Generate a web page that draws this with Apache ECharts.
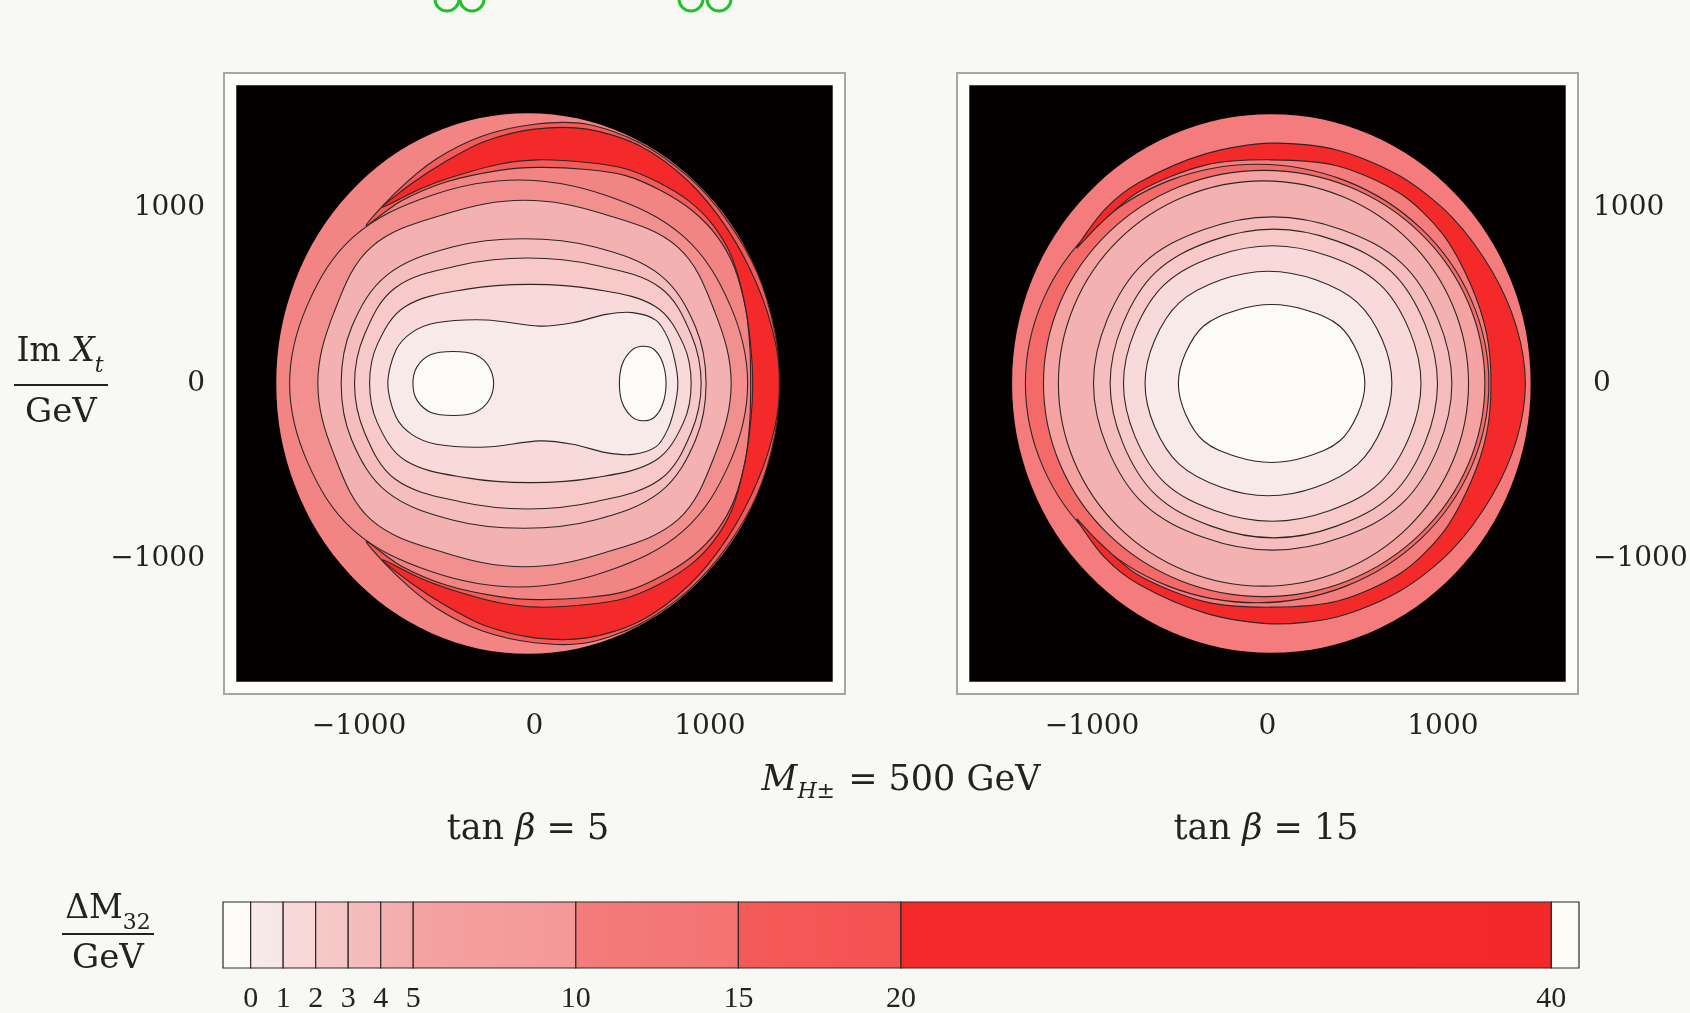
<!doctype html>
<html>
<head>
<meta charset="utf-8">
<title>ΔM32 contours</title>
<script src="https://cdn.jsdelivr.net/npm/echarts@6/dist/echarts.min.js"></script>
<style>
  html, body { margin: 0; padding: 0; background: #f8f9f4; }
  #chart { width: 1690px; height: 1013px; }
</style>
</head>
<body>
<div id="chart"></div>
<script>
// colour levels of Delta M32 / GeV
var levels = [0, 1, 2, 3, 4, 5, 10, 15, 20, 40];
var barEdges = [-0.85, 0, 1, 2, 3, 4, 5, 10, 15, 20, 40, 40.85];
// band colours: below 0, 0-1, 1-2, 2-3, 3-4, 4-5, 5-10, 10-15, 15-20, 20-40, above 40
var bandColors = ['#fcfbf9', '#f9eaea', '#f8dada', '#f7c9c9', '#f5bdbd', '#f4b1b1', '#f4a2a2', '#f47c7c', '#f45b58', '#f42a2a', '#fcfbf9'];
var bandColorsEnd = ['#fcfbf9', '#f8e6e6', '#f8d6d6', '#f6c5c5', '#f5b9b9', '#f4abab', '#f49898', '#f47272', '#f45252', '#f42828', '#fcfbf9'];

var axisTicks = [-1500, -1000, -500, 0, 500, 1000, 1500];
var axisLabels = [-1000, 0, 1000];
var plotBox = [[-1700, -1700], [1700, -1700], [1700, 1700], [-1700, 1700]];

// ---- tan beta = 5 : contour outlines (Re Xt, Im Xt in GeV)
var leftEdge = [[1396,0],[1287,589],[976,1089],[511,1423],[-38,1540],[-587,1423],[-1052,1089],[-1363,589],[-1472,0],
  [-1363,-589],[-1052,-1089],[-587,-1423],[-38,-1540],[511,-1423],[976,-1089],[1287,-589]];
var left15 = [[-960,900],[-780,1100],[-560,1280],[-300,1410],[0,1478],[300,1478],[600,1372],[880,1176],[1090,940],[1268,635],[1372,285],[1396,0],
  [1372,-285],[1268,-635],[1090,-940],[880,-1176],[600,-1372],[300,-1478],[0,-1478],[-300,-1410],[-560,-1280],[-780,-1100],[-960,-900],
  [-760,-1040],[-500,-1150],[-200,-1215],[20,-1232],[300,-1220],[520,-1185],[720,-1100],[900,-985],[1040,-840],[1140,-660],[1205,-420],[1228,-200],[1232,0],
  [1228,200],[1205,420],[1140,660],[1040,840],[900,985],[720,1100],[520,1185],[300,1220],[20,1232],[-200,1215],[-500,1150],[-760,1040]];
var left20 = [[-868,1005],[-700,1140],[-500,1270],[-285,1380],[0,1450],[300,1450],[600,1355],[880,1150],[1100,880],[1270,560],[1370,250],[1396,0],
  [1370,-250],[1270,-560],[1100,-880],[880,-1150],[600,-1355],[300,-1450],[0,-1450],[-285,-1380],[-500,-1270],[-700,-1140],[-868,-1005],
  [-650,-1110],[-469,-1177],[-200,-1250],[22,-1275],[300,-1260],[513,-1226],[700,-1150],[881,-1040],[1020,-900],[1127,-715],[1200,-450],[1234,-200],[1244,0],
  [1234,200],[1200,450],[1127,715],[1020,900],[881,1040],[700,1150],[513,1226],[300,1260],[22,1275],[-200,1250],[-469,1177],[-650,1110]];
var left10 = [[1215,0],[1116,444],[851,837],[409,1072],[-90,1160],[-589,1072],[-1031,837],[-1296,444],[-1396,0],
  [-1296,-444],[-1031,-837],[-589,-1072],[-90,-1160],[409,-1072],[851,-837],[1116,-444]];
var left5 = [[1121,0],[1031,400],[818,776],[394,966],[-57,1045],[-508,966],[-932,776],[-1145,400],[-1235,0],
  [-1145,-400],[-932,-776],[-508,-966],[-57,-1045],[394,-966],[818,-776],[1031,-400]];
var left4 = [[978,0],[918,322],[717,618],[344,778],[-62,825],[-468,778],[-841,618],[-1042,322],[-1102,0],
  [-1042,-322],[-841,-618],[-468,-778],[-62,-825],[344,-778],[717,-618],[918,-322]];
var left3 = [[950,0],[893,279],[717,546],[348,674],[-38,715],[-424,674],[-793,546],[-969,279],[-1026,0],
  [-969,-279],[-793,-546],[-424,-674],[-38,-715],[348,-674],[717,-546],[893,-279]];
var left2 = [[893,0],[849,223],[689,439],[338,538],[-23,565],[-385,538],[-736,439],[-896,223],[-940,0],
  [-896,-223],[-736,-439],[-385,-538],[-23,-565],[338,-538],[689,-439],[849,-223]];
var left1 = [[817,0],[800,130],[760,260],[693,360],[560,404],[408,394],[218,346],[28,327],[-275,362],[-560,346],[-700,290],[-790,190],[-836,0],
  [-790,-190],[-700,-290],[-560,-346],[-275,-362],[28,-327],[218,-346],[408,-394],[560,-404],[693,-360],[760,-260],[800,-130]];
var left0a = [[-233,0],[-262,100],[-340,165],[-463,182],[-590,165],[-670,95],[-693,0],[-670,-95],[-590,-165],[-463,-182],[-340,-165],[-262,-100]];
var left0b = [[750,0],[730,120],[680,195],[617,212],[555,190],[500,110],[484,0],[500,-110],[555,-190],[617,-212],[680,-195],[730,-120]];

// ---- tan beta = 15
var rightEdge = [[1500,0],[1388,587],[1067,1085],[588,1418],[22,1535],[-544,1418],[-1023,1085],[-1344,587],[-1456,0],
  [-1344,-587],[-1023,-1085],[-544,-1418],[22,-1535],[588,-1418],[1067,-1085],[1388,-587]];
var right15 = [[1262,0],[1161,478],[875,884],[447,1155],[-59,1250],[-565,1155],[-993,884],[-1279,478],[-1380,0],
  [-1279,-478],[-993,-884],[-565,-1155],[-59,-1250],[447,-1155],[875,-884],[1161,-478]];
var right20 = [[-1087,773],[-930,990],[-732,1146],[-354,1309],[23,1370],[400,1330],[760,1180],[1050,950],[1280,640],[1420,320],[1470,0],
  [1420,-320],[1280,-640],[1050,-950],[760,-1180],[400,-1330],[23,-1370],[-354,-1309],[-732,-1146],[-930,-990],[-1087,-773],
  [-960,-905],[-732,-1095],[-354,-1245],[23,-1275],[400,-1240],[760,-1080],[1000,-850],[1160,-560],[1250,-280],[1274,0],
  [1250,280],[1160,560],[1000,850],[760,1080],[400,1240],[23,1275],[-354,1245],[-732,1095],[-960,905]];
var right10 = [[1239,0],[1143,465],[870,859],[462,1123],[-19,1215],[-500,1123],[-908,859],[-1181,465],[-1277,0],
  [-1181,-465],[-908,-859],[-500,-1123],[-19,-1215],[462,-1123],[870,-859],[1143,-465]];
var right5 = [[1146,0],[1057,442],[804,817],[424,1067],[-23,1155],[-470,1067],[-850,817],[-1103,442],[-1192,0],
  [-1103,-442],[-850,-817],[-470,-1067],[-23,-1155],[424,-1067],[804,-817],[1057,-442]];
var right4 = [[1051,0],[973,364],[766,685],[420,878],[30,950],[-362,878],[-707,685],[-914,364],[-992,0],
  [-914,-364],[-707,-685],[-362,-878],[30,-950],[420,-878],[766,-685],[973,-364]];
var right3 = [[969,0],[898,337],[709,635],[393,813],[36,880],[-321,813],[-637,635],[-826,337],[-897,0],
  [-826,-337],[-637,-635],[-321,-813],[36,-880],[393,-813],[709,-635],[898,-337]];
var right2 = [[875,0],[810,300],[639,566],[352,725],[27,785],[-298,725],[-585,566],[-756,300],[-821,0],
  [-756,-300],[-585,-566],[-298,-725],[27,-785],[352,-725],[639,-566],[810,-300]];
var right1 = [[709,0],[656,245],[513,461],[275,591],[5,640],[-264,591],[-502,461],[-644,245],[-698,0],
  [-644,-245],[-502,-461],[-264,-591],[5,-640],[275,-591],[513,-461],[656,-245]];
var right0 = [[555,0],[515,172],[411,328],[227,416],[23,450],[-180,416],[-364,328],[-468,172],[-508,0],
  [-468,-172],[-364,-328],[-180,-416],[23,-450],[227,-416],[411,-328],[515,-172]];

// painting order, outermost first
var leftLayers = [
  { pts: plotBox, fill: '#050101', line: false, smooth: 0 },
  { pts: leftEdge, fill: '#f38484', line: false, smooth: 0.35 },
  { pts: left15, fill: bandColors[8], line: true, smooth: 0.3 },
  { pts: left20, fill: bandColors[9], line: true, smooth: 0.3 },
  { pts: left10, fill: '#f29090', line: true, smooth: 0.36 },
  { pts: left5, fill: bandColors[5], line: true, smooth: 0.36 },
  { pts: left4, fill: bandColors[4], line: true, smooth: 0.36 },
  { pts: left3, fill: bandColors[3], line: true, smooth: 0.36 },
  { pts: left2, fill: bandColors[2], line: true, smooth: 0.36 },
  { pts: left1, fill: bandColors[1], line: true, smooth: 0.3 },
  { pts: left0a, fill: bandColors[0], line: true, smooth: 0.35 },
  { pts: left0b, fill: bandColors[0], line: true, smooth: 0.35 }
];
var rightLayers = [
  { pts: plotBox, fill: '#050101', line: false, smooth: 0 },
  { pts: rightEdge, fill: bandColors[7], line: false, smooth: 0.35 },
  { pts: right15, fill: '#f36a68', line: true, smooth: 0.36 },
  { pts: right20, fill: bandColors[9], line: true, smooth: 0.3 },
  { pts: right10, fill: bandColors[6], line: true, smooth: 0.36 },
  { pts: right5, fill: bandColors[5], line: true, smooth: 0.36 },
  { pts: right4, fill: bandColors[4], line: true, smooth: 0.36 },
  { pts: right3, fill: bandColors[3], line: true, smooth: 0.36 },
  { pts: right2, fill: bandColors[2], line: true, smooth: 0.36 },
  { pts: right1, fill: bandColors[1], line: true, smooth: 0.36 },
  { pts: right0, fill: bandColors[0], line: true, smooth: 0.36 }
];

var chart = echarts.init(document.getElementById('chart'), null, { renderer: 'canvas' });

var serifDigits = 'DejaVu Serif';
var serifText = 'DejaVu Serif';

function minusFmt(v) {
  return v < 0 ? '\u2212' + Math.abs(v) : String(v);
}

function contourRender(layers) {
  return function (params, api) {
    var layer = layers[params.dataIndex];
    var points = layer.pts.map(function (p) { return api.coord(p); });
    return {
      type: 'polygon',
      shape: { points: points, smooth: layer.smooth },
      style: {
        fill: layer.fill,
        stroke: layer.line ? '#2e2626' : null,
        lineWidth: layer.line ? 1.1 : 0
      }
    };
  };
}

function panelAxes(gridIndex, labelSide) {
  var base = {
    type: 'value', gridIndex: gridIndex, min: -1770, max: 1770,
    splitLine: { show: false },
    axisLine: { show: false },
    axisTick: { show: true, inside: true, length: 8, customValues: axisTicks, lineStyle: { color: '#8c8c8c', width: 1.5 } }
  };
  function make(pos, showLabel, margin) {
    var a = Object.assign({}, base);
    a.position = pos;
    a.axisLabel = {
      show: showLabel, customValues: axisLabels, formatter: minusFmt,
      fontFamily: serifDigits, fontSize: 28, color: '#222', margin: margin
    };
    return a;
  }
  return {
    x: [make('bottom', true, 19), make('top', false, 8)],
    y: [make('left', labelSide === 'left', 19), make('right', labelSide === 'right', 15)]
  };
}

var la = panelAxes(0, 'left');
var ra = panelAxes(1, 'right');

var barData = [];
for (var i = 0; i < barEdges.length - 1; i++) {
  barData.push([barEdges[i], barEdges[i + 1], i]);
}

chart.setOption({
  backgroundColor: '#f8f9f4',
  animation: false,
  grid: [
    { left: 224, top: 73, width: 621, height: 621, show: true, backgroundColor: '#fdfdfb', borderColor: '#a6a6a6', borderWidth: 2, outerBoundsMode: 'none' },
    { left: 957, top: 73, width: 621, height: 621, show: true, backgroundColor: '#fdfdfb', borderColor: '#a6a6a6', borderWidth: 2, outerBoundsMode: 'none' },
    { left: 223, top: 902, width: 1356, height: 66, show: false, outerBoundsMode: 'none' }
  ],
  xAxis: [
    la.x[0], la.x[1], ra.x[0], ra.x[1],
    {
      type: 'value', gridIndex: 2, min: -0.85, max: 40.85,
      splitLine: { show: false }, axisLine: { show: false }, axisTick: { show: false },
      axisLabel: { customValues: levels, fontFamily: 'Liberation Serif', fontSize: 30, color: '#222', margin: 16 }
    }
  ],
  yAxis: [
    la.y[0], la.y[1], ra.y[0], ra.y[1],
    { type: 'value', gridIndex: 2, min: 0, max: 1, show: false }
  ],
  series: [
    {
      type: 'custom', name: 'tan beta 5', xAxisIndex: 0, yAxisIndex: 0,
      data: leftLayers.map(function (l, k) { return [k, 0]; }),
      renderItem: contourRender(leftLayers), silent: true
    },
    {
      type: 'custom', name: 'tan beta 15', xAxisIndex: 2, yAxisIndex: 2,
      data: rightLayers.map(function (l, k) { return [k, 0]; }),
      renderItem: contourRender(rightLayers), silent: true
    },
    {
      type: 'custom', name: 'legend bar', xAxisIndex: 4, yAxisIndex: 4,
      data: barData, silent: true,
      renderItem: function (params, api) {
        var p0 = api.coord([api.value(0), 1]);
        var p1 = api.coord([api.value(1), 0]);
        var k = api.value(2);
        return {
          type: 'rect',
          shape: { x: p0[0], y: p0[1], width: p1[0] - p0[0], height: p1[1] - p0[1] },
          style: {
            fill: new echarts.graphic.LinearGradient(0, 0, 1, 0, [
              { offset: 0, color: bandColors[k] },
              { offset: 1, color: bandColorsEnd[k] }
            ]),
            stroke: '#2e2a2a', lineWidth: 1.2
          }
        };
      }
    }
  ],
  graphic: [
    // stray green marks at the top edge
    { type: 'circle', shape: { cx: 447, cy: -1, r: 12 }, style: { fill: 'none', stroke: '#22c02a', lineWidth: 3 } },
    { type: 'circle', shape: { cx: 472, cy: -1, r: 12 }, style: { fill: 'none', stroke: '#22c02a', lineWidth: 3 } },
    { type: 'circle', shape: { cx: 691, cy: -1, r: 12 }, style: { fill: 'none', stroke: '#22c02a', lineWidth: 3 } },
    { type: 'circle', shape: { cx: 719, cy: -1, r: 12 }, style: { fill: 'none', stroke: '#22c02a', lineWidth: 3 } },
    // y axis title
    {
      type: 'text', x: 60, y: 356,
      style: {
        text: '{n|Im }{i|X}{s|t}', align: 'center', verticalAlign: 'middle', fill: '#222',
        rich: {
          n: { fontFamily: serifText, fontSize: 33, lineHeight: 40, verticalAlign: 'top' },
          i: { fontFamily: serifText, fontSize: 33, fontStyle: 'italic', lineHeight: 40, verticalAlign: 'top' },
          s: { fontFamily: serifText, fontSize: 22, fontStyle: 'italic', lineHeight: 22, padding: [19, 0, 0, 0], verticalAlign: 'top' }
        }
      }
    },
    { type: 'line', shape: { x1: 14, y1: 385, x2: 108, y2: 385 }, style: { stroke: '#222', lineWidth: 2 } },
    { type: 'text', x: 61, y: 413, style: { text: 'GeV', font: '34px "DejaVu Serif"', fill: '#222', align: 'center', verticalAlign: 'middle' } },
    // legend title
    {
      type: 'text', x: 108, y: 913,
      style: {
        text: '{n|\u0394M}{s|32}', align: 'center', verticalAlign: 'middle', fill: '#222',
        rich: {
          n: { fontFamily: serifText, fontSize: 33, lineHeight: 40, verticalAlign: 'top' },
          s: { fontFamily: serifText, fontSize: 22, lineHeight: 22, padding: [19, 0, 0, 0], verticalAlign: 'top' }
        }
      }
    },
    { type: 'line', shape: { x1: 62, y1: 934, x2: 154, y2: 934 }, style: { stroke: '#222', lineWidth: 2 } },
    { type: 'text', x: 108, y: 959, style: { text: 'GeV', font: '34px "DejaVu Serif"', fill: '#222', align: 'center', verticalAlign: 'middle' } },
    // panel captions
    {
      type: 'text', x: 901, y: 784,
      style: {
        text: '{i|M}{s|H\u00b1}{n| = 500 GeV}', align: 'center', verticalAlign: 'middle', fill: '#222',
        rich: {
          n: { fontFamily: serifText, fontSize: 35, lineHeight: 42, verticalAlign: 'top' },
          i: { fontFamily: serifText, fontSize: 35, fontStyle: 'italic', lineHeight: 42, verticalAlign: 'top' },
          s: { fontFamily: serifText, fontSize: 22, fontStyle: 'italic', lineHeight: 22, padding: [18, 2, 0, 0], verticalAlign: 'top' }
        }
      }
    },
    {
      type: 'text', x: 528, y: 830,
      style: {
        text: '{n|tan }{i|\u03b2}{n| = 5}', align: 'center', verticalAlign: 'middle', fill: '#222',
        rich: {
          n: { fontFamily: serifText, fontSize: 35 },
          i: { fontFamily: serifText, fontSize: 35, fontStyle: 'italic' }
        }
      }
    },
    {
      type: 'text', x: 1266, y: 830,
      style: {
        text: '{n|tan }{i|\u03b2}{n| = 15}', align: 'center', verticalAlign: 'middle', fill: '#222',
        rich: {
          n: { fontFamily: serifText, fontSize: 35 },
          i: { fontFamily: serifText, fontSize: 35, fontStyle: 'italic' }
        }
      }
    }
  ]
});
</script>
</body>
</html>
